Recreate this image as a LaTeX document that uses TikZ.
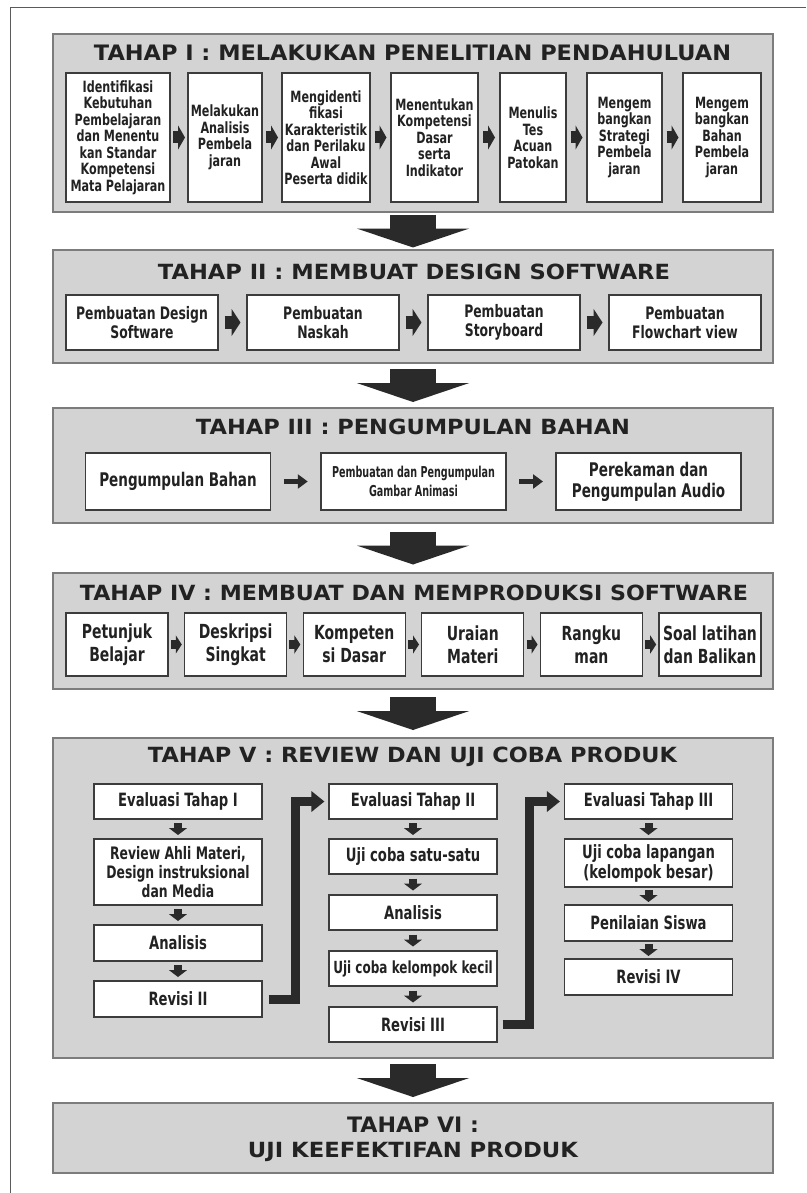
\documentclass[tikz,border=0pt]{standalone}
\usepackage{graphicx}
\usepackage{fontspec}
\setmainfont{DejaVu Sans}
\newfontfamily\cf{DejaVu Sans}[FakeStretch=0.72]
\newfontfamily\cff{DejaVu Sans}[FakeStretch=0.64]
\usetikzlibrary{arrows.meta,calc}
\definecolor{stagefill}{HTML}{D3D3D3}
\definecolor{stageline}{HTML}{7C7C7C}
\definecolor{boxline}{HTML}{3C3C3C}
\definecolor{ink}{HTML}{222222}
\definecolor{arrowc}{HTML}{2A2A2A}
\definecolor{framec}{HTML}{5A5A5A}
\newcommand\stitle[2]{\resizebox{#1}{15.5pt}{\bfseries #2}}
\newcommand\hgo[4]{\draw[#1] ($(#2.east)!.5!(#3.west)+(-#4,0)$) -- ($(#2.east)!.5!(#3.west)+(#4,0)$);}
\newcommand\vgo[4]{\draw[#1] ($(#2.south)!.5!(#3.north)+(0,-#4)$) -- ($(#2.south)!.5!(#3.north)+(0,#4)$);}
\begin{document}
\begin{tikzpicture}[x=1pt,y=-1pt,
 stage/.style={draw=stageline, fill=stagefill, line width=1.5pt, inner sep=0pt, minimum width=720pt},
 ib/.style={draw=boxline, fill=white, line width=1.1pt, inner sep=0pt, align=center, text=ink},
 ibI/.style={ib, minimum height=129pt, font=\cf\bfseries\fontsize{15.5}{16.5}\selectfont},
 ibII/.style={ib, minimum width=152pt, minimum height=55pt, font=\cf\bfseries\fontsize{17.2}{19}\selectfont},
 ibIII/.style={ib, minimum width=185pt, minimum height=57pt, font=\cf\bfseries\fontsize{18.8}{21}\selectfont},
 ibIV/.style={ib, minimum width=102pt, minimum height=63pt, font=\cf\bfseries\fontsize{19.4}{23}\selectfont},
 ibV/.style={ib, minimum width=168pt, font=\cf\bfseries\fontsize{18.3}{20}\selectfont},
 ttlnode/.style={text=ink, inner sep=0pt},
 blkI/.style={arrowc, line width=12pt, -{Triangle[width=24pt,length=7pt]}},
 blkII/.style={arrowc, line width=13pt, -{Triangle[width=27pt,length=9pt]}},
 blkIV/.style={arrowc, line width=9pt, -{Triangle[width=18pt,length=6pt]}},
 thinIII/.style={arrowc, line width=5pt, -{Triangle[width=14pt,length=10pt]}},
 blkV/.style={arrowc, line width=8pt, -{Triangle[width=18pt,length=7pt]}},
 bigarrow/.style={arrowc, line width=46pt, -{Triangle[width=112pt,length=19pt]}},
 elbow/.style={arrowc, line width=9pt, miter limit=10, -{Triangle[width=20pt,length=13pt]}}
]
\useasboundingbox (0,0) rectangle (806,1193);
\fill[white] (0,0) rectangle (806,1193);
\draw[framec, line width=1pt] (10,1193) -- (10,8) -- (806,8);

% stages
\node[stage, minimum height=178pt] (S1) at (413,123) {};
\node[stage, minimum height=113pt] (S2) at (413,306.5) {};
\node[stage, minimum height=115pt] (S3) at (413,465.5) {};
\node[stage, minimum height=116pt] (S4) at (413,631) {};
\node[stage, minimum height=320pt] (S5) at (413,898) {};
\node[stage, minimum height=70pt] (S6) at (413,1138) {};

% big arrows
\newcommand\bigdown[2]{\draw[bigarrow] ($(#1.south)!.5!(#2.north)+(0,-16.5)$) -- ($(#1.south)!.5!(#2.north)+(0,16.5)$);}
\bigdown{S1}{S2}
\bigdown{S2}{S3}
\bigdown{S3}{S4}
\bigdown{S4}{S5}
\bigdown{S5}{S6}

% titles
\node[ttlnode] (T1) at (412.5,53) {\stitle{637pt}{TAHAP I : MELAKUKAN PENELITIAN PENDAHULUAN}};
\node[ttlnode] (T2) at (414,272) {\stitle{512pt}{TAHAP II : MEMBUAT DESIGN SOFTWARE}};
\node[ttlnode] (T3) at (413,427) {\stitle{434pt}{TAHAP III : PENGUMPULAN BAHAN}};
\node[ttlnode] (T4) at (414,593) {\stitle{668pt}{TAHAP IV : MEMBUAT DAN MEMPRODUKSI SOFTWARE}};
\node[ttlnode] (T5) at (412.5,757) {\stitle{529pt}{TAHAP V : REVIEW DAN UJI COBA PRODUK}};
\node[ttlnode] (T6a) at (413,1125) {\stitle{132pt}{TAHAP VI :}};
\node[ttlnode] (T6b) at (413,1152) {\stitle{330pt}{UJI KEEFEKTIFAN PRODUK}};

% Tahap I
\node[ibI, minimum width=104pt] (a1) at (118,137.5) {Identifikasi\\Kebutuhan\\Pembelajaran\\dan Menentu\\kan Standar\\Kompetensi\\Mata Pelajaran};
\node[ibI, minimum width=74pt] (a2) at (225,137.5) {Melakukan\\Analisis\\Pembela\\jaran};
\node[ibI, minimum width=88pt] (a3) at (326,137.5) {Mengidenti\\fikasi\\Karakteristik\\dan Perilaku\\Awal\\Peserta didik};
\node[ibI, minimum width=87pt] (a4) at (434.5,137.5) {Menentukan\\Kompetensi\\Dasar\\serta\\Indikator};
\node[ibI, minimum width=66pt] (a5) at (533,137.5) {Menulis\\Tes\\Acuan\\Patokan};
\node[ibI, minimum width=75pt] (a6) at (624.5,137.5) {Mengem\\bangkan\\Strategi\\Pembela\\jaran};
\node[ibI, minimum width=78pt] (a7) at (722,137.5) {Mengem\\bangkan\\Bahan\\Pembela\\jaran};
\hgo{blkI}{a1}{a2}{6}
\hgo{blkI}{a2}{a3}{6}
\hgo{blkI}{a3}{a4}{6}
\hgo{blkI}{a4}{a5}{6}
\hgo{blkI}{a5}{a6}{6}
\hgo{blkI}{a6}{a7}{6}

% Tahap II
\node[ibII] (b1) at (142,322.5) {Pembuatan Design\\Software};
\node[ibII] (b2) at (323,322.5) {Pembuatan\\Naskah};
\node[ibII] (b3) at (504,322.5) {Pembuatan\\Storyboard};
\node[ibII] (b4) at (685,322.5) {Pembuatan\\Flowchart view};
\hgo{blkII}{b1}{b2}{8}
\hgo{blkII}{b2}{b3}{8}
\hgo{blkII}{b3}{b4}{8}

% Tahap III
\node[ibIII] (c1) at (178,481.5) {Pengumpulan Bahan};
\node[ibIII, font=\cff\bfseries\fontsize{15}{19}\selectfont] (c2) at (413.5,481.5) {Pembuatan dan Pengumpulan\\Gambar Animasi};
\node[ibIII] (c3) at (648.5,481.5) {Perekaman dan\\Pengumpulan Audio};
\hgo{thinIII}{c1}{c2}{12}
\hgo{thinIII}{c2}{c3}{12}

% Tahap IV
\node[ibIV] (d1) at (117,644.5) {Petunjuk\\Belajar};
\node[ibIV] (d2) at (235.6,644.5) {Deskripsi\\Singkat};
\node[ibIV] (d3) at (354.2,644.5) {Kompeten\\si Dasar};
\node[ibIV] (d4) at (472.8,644.5) {Uraian\\Materi};
\node[ibIV] (d5) at (591.4,644.5) {Rangku\\man};
\node[ibIV] (d6) at (710,644.5) {Soal latihan\\dan Balikan};
\hgo{blkIV}{d1}{d2}{5.5}
\hgo{blkIV}{d2}{d3}{5.5}
\hgo{blkIV}{d3}{d4}{5.5}
\hgo{blkIV}{d4}{d5}{5.5}
\hgo{blkIV}{d5}{d6}{5.5}

% Tahap V column 1
\node[ibV, minimum height=35pt] (E1) at (178,801.5) {Evaluasi Tahap I};
\node[ibV, minimum height=66pt, font=\cf\bfseries\fontsize{17.2}{19}\selectfont] (R1) at (178,872) {Review Ahli Materi,\\Design instruksional\\dan Media};
\node[ibV, minimum height=36pt] (A1) at (178,943) {Analisis};
\node[ibV, minimum height=36pt] (RVa) at (178,999) {Revisi II};
\vgo{blkV}{E1}{R1}{6}
\vgo{blkV}{R1}{A1}{6}
\vgo{blkV}{A1}{RVa}{6}

% column 2
\node[ibV, minimum height=35pt] (E2) at (413,801.5) {Evaluasi Tahap II};
\node[ibV, minimum height=35pt] (U2) at (413,856.5) {Uji coba satu-satu};
\node[ibV, minimum height=35pt] (A2) at (413,912.5) {Analisis};
\node[ibV, minimum height=35pt, font=\cf\bfseries\fontsize{16.7}{19}\selectfont] (K2) at (413,968.5) {Uji coba kelompok kecil};
\node[ibV, minimum height=35pt] (RVb) at (413,1024.5) {Revisi III};
\vgo{blkV}{E2}{U2}{6}
\vgo{blkV}{U2}{A2}{6}
\vgo{blkV}{A2}{K2}{6}
\vgo{blkV}{K2}{RVb}{6}

% column 3
\node[ibV, minimum height=35pt] (E3) at (648.5,801.5) {Evaluasi Tahap III};
\node[ibV, minimum height=48pt] (U3) at (648.5,863) {Uji coba lapangan\\(kelompok besar)};
\node[ibV, minimum height=36pt] (P3) at (648.5,923) {Penilaian Siswa};
\node[ibV, minimum height=36pt] (RVc) at (648.5,977) {Revisi IV};
\vgo{blkV}{E3}{U3}{6}
\vgo{blkV}{U3}{P3}{6}
\vgo{blkV}{P3}{RVc}{6}

% elbow connectors
\draw[elbow, shorten <=6pt, shorten >=4pt] (RVa.east) -- ++(33,0) |- (E2.west);
\draw[elbow, shorten <=5pt, shorten >=4pt] (RVb.east) -- ++(32,0) |- (E3.west);
\end{tikzpicture}
\end{document}
